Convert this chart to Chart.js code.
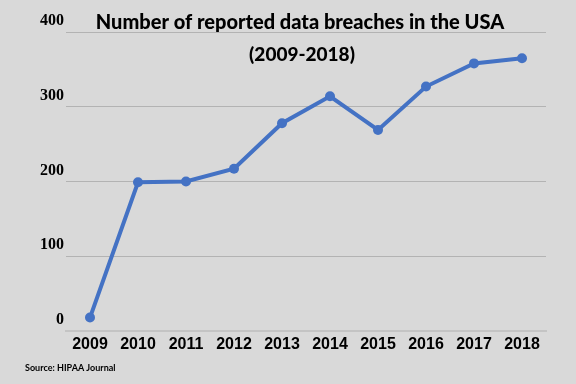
<!DOCTYPE html>
<html>
<head>
<meta charset="utf-8">
<script src="https://cdn.jsdelivr.net/npm/chart.js@4/dist/chart.umd.min.js"></script>
<style>
  html, body { margin: 0; padding: 0; background: #d9d9d9; }
  #wrap { position: relative; width: 576px; height: 384px; }
  canvas { display: block; }
</style>
</head>
<body>
<div id="wrap"><canvas id="c" width="576" height="384"></canvas></div>
<script>
const years = ["2009","2010","2011","2012","2013","2014","2015","2016","2017","2018"];
const breaches = [18, 199, 200, 217, 278, 314, 269, 327, 358, 365];
const yTicks = [0, 100, 200, 300, 400];
const titleText = "Number of reported data breaches in the USA";
const subtitleText = "(2009-2018)";
const sourceText = "Source: HIPAA Journal";

const textPlugin = {
  id: 'overlayText',
  afterDraw(chart) {
    const ctx = chart.ctx;
    ctx.save();
    ctx.fillStyle = '#000';
    ctx.textAlign = 'center';
    ctx.textBaseline = 'alphabetic';
    ctx.font = '900 20px Lato';
    ctx.fillText(titleText, 300, 29);
    ctx.font = '900 19px Lato';
    ctx.fillText(subtitleText, 302, 61);
    ctx.textAlign = 'left';
    ctx.font = 'bold 9px Lato';
    ctx.fillText(sourceText, 25, 371);
    ctx.restore();
  }
};

new Chart(document.getElementById('c'), {
  type: 'line',
  data: {
    labels: years,
    datasets: [{
      data: breaches,
      borderColor: '#4472c4',
      backgroundColor: '#4472c4',
      borderWidth: 4,
      pointRadius: 5,
      pointBorderWidth: 0,
      pointBackgroundColor: '#4472c4',
      tension: 0,
      fill: false
    }]
  },
  options: {
    responsive: false,
    animation: false,
    devicePixelRatio: 1,
    layout: { padding: { top: 32, right: 30, bottom: 0, left: 0 } },
    plugins: { legend: { display: false }, title: { display: false }, tooltip: { enabled: false } },
    scales: {
      x: {
        offset: true,
        grid: { display: false, drawTicks: false },
        border: { display: true, color: '#c4c4c4', width: 2 },
        ticks: { color: '#000', font: { family: 'Liberation Sans', size: 16, weight: 'bold' }, padding: 4, maxRotation: 0 },
        afterFit: (s) => { s.height = 53; }
      },
      y: {
        min: 0, max: 400,
        afterBuildTicks: (s) => { s.ticks = yTicks.map(v => ({ value: v })); },
        grid: { color: '#b3b3b3', lineWidth: 1, drawTicks: false },
        border: { display: false },
        ticks: { color: '#000', font: { family: 'Liberation Serif', size: 16, weight: 'bold' }, padding: 2, labelOffset: -11 },
        afterFit: (s) => { s.width = 66; }
      }
    }
  },
  plugins: [textPlugin]
});
</script>
</body>
</html>
